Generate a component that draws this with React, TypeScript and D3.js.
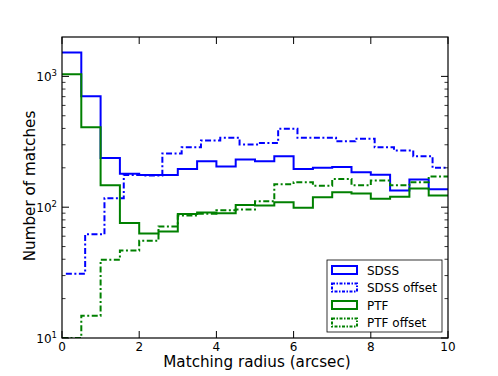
import * as d3 from 'd3'

// bin width 0.5 arcsec; the offset SDSS histogram is shifted by ~0.1
const BIN_EDGES = d3.range(0, 10.01, 0.5)
const SDSS_OFFSET_EDGES = d3.range(0.1, 10.2, 0.5)

const SDSS = [1520, 706, 238, 180, 176, 176, 196, 224, 205, 232, 224, 245, 196, 200, 203, 185, 177, 134, 163, 137]
const SDSS_OFFSET = [31, 62, 117, 176, 175, 257, 287, 323, 339, 301, 310, 397, 339, 339, 319, 333, 287, 271, 245, 200]
const PTF = [1036, 409, 147, 75.6, 63, 65.3, 88.7, 91, 90, 104, 103, 109, 99, 119, 130, 127, 116, 120, 139, 123]
const PTF_OFFSET = [10, 14.8, 39.6, 46.7, 55.4, 71.3, 86.5, 89, 94.6, 96, 111, 150, 155, 146, 164, 147, 160, 147, 155, 172]

const X_TICKS = [0, 2, 4, 6, 8, 10]
const Y_MAJOR = [10, 100, 1000]
const Y_EXP = ['1', '2', '3']

const SERIES = [
  { name: 'SDSS', values: SDSS, edges: BIN_EDGES, color: '#0000ff', dash: null },
  { name: 'SDSS offset', values: SDSS_OFFSET, edges: SDSS_OFFSET_EDGES, color: '#0000ff', dash: '6,2.5,2,2.5' },
  { name: 'PTF', values: PTF, edges: BIN_EDGES, color: '#008000', dash: null },
  { name: 'PTF offset', values: PTF_OFFSET, edges: BIN_EDGES, color: '#008000', dash: '6,2.5,2,2.5' },
]

const W = 498
const H = 376
const M = { left: 62, right: 448, top: 37, bottom: 338 }
const FONT = 'DejaVu Sans, sans-serif'

export default function App() {
  const x = d3.scaleLinear().domain([0, 10]).range([M.left, M.right])
  const y = d3.scaleLog().domain([10, 2000]).range([M.bottom, M.top])

  const minor: number[] = []
  ;[10, 100, 1000].forEach((d) => {
    for (let k = 2; k <= 9; k++) if (d * k < 2000) minor.push(d * k)
  })

  const stepPath = (values: number[], edges: number[]) => {
    const pts: [number, number][] = values.map((v, i) => [edges[i], v])
    pts.push([edges[values.length], values[values.length - 1]])
    const line = d3
      .line<[number, number]>()
      .x((d) => x(d[0]))
      .y((d) => y(d[1]))
      .curve(d3.curveStepAfter)
    return line(pts) || ''
  }

  const lg = { x: 327, y: 260, w: 115, h: 72 }

  return (
    <svg width={W} height={H} style={{ position: 'absolute', left: 0, top: 0 }} fontFamily={FONT}>
      <rect width={W} height={H} fill="#fff" />
      <defs>
        <clipPath id="plot">
          <rect x={M.left} y={M.top} width={M.right - M.left} height={M.bottom - M.top} />
        </clipPath>
      </defs>

      <g clipPath="url(#plot)">
        {SERIES.map((s) => (
          <path
            key={s.name}
            d={stepPath(s.values, s.edges)}
            fill="none"
            stroke={s.color}
            strokeWidth={2}
            strokeDasharray={s.dash || undefined}
          />
        ))}
      </g>

      {/* frame */}
      <rect x={M.left} y={M.top} width={M.right - M.left} height={M.bottom - M.top} fill="none" stroke="#000" strokeWidth={1.2} />

      {/* x ticks */}
      {X_TICKS.map((t) => (
        <g key={t}>
          <line x1={x(t)} x2={x(t)} y1={M.bottom} y2={M.bottom - 7} stroke="#000" />
          <line x1={x(t)} x2={x(t)} y1={M.top} y2={M.top + 7} stroke="#000" />
          <text x={x(t)} y={350.5} textAnchor="middle" fontSize={12}>
            {t}
          </text>
        </g>
      ))}

      {/* y ticks */}
      {Y_MAJOR.map((t, i) => (
        <g key={t}>
          <line x1={M.left} x2={M.left + 7} y1={y(t)} y2={y(t)} stroke="#000" />
          <line x1={M.right} x2={M.right - 7} y1={y(t)} y2={y(t)} stroke="#000" />
          <text x={M.left - 5} y={y(t) + 5} textAnchor="end" fontSize={12}>
            10<tspan dy={-5} fontSize={8.5}>{Y_EXP[i]}</tspan>
          </text>
        </g>
      ))}
      {minor.map((t) => (
        <g key={t}>
          <line x1={M.left} x2={M.left + 3.5} y1={y(t)} y2={y(t)} stroke="#000" strokeWidth={0.8} />
          <line x1={M.right} x2={M.right - 3.5} y1={y(t)} y2={y(t)} stroke="#000" strokeWidth={0.8} />
        </g>
      ))}

      {/* axis labels */}
      <text x={257} y={367} textAnchor="middle" fontSize={15.2}>
        Matching radius (arcsec)
      </text>
      <text transform={`translate(35,186) rotate(-90)`} textAnchor="middle" fontSize={15.2}>
        Number of matches
      </text>

      {/* legend */}
      <rect x={lg.x} y={lg.y} width={lg.w} height={lg.h} fill="#fff" stroke="#000" strokeWidth={0.8} />
      {SERIES.map((s, i) => (
        <g key={s.name} transform={`translate(${lg.x + 5},${lg.y + 10 + i * 17.5})`}>
          <rect x={0} y={-4} width={25} height={8} fill="none" stroke={s.color} strokeWidth={2} strokeDasharray={s.dash ? '3,1.5,1.5,1.5' : undefined} />
          <text x={35} y={4.5} fontSize={12}>
            {s.name}
          </text>
        </g>
      ))}
    </svg>
  )
}
